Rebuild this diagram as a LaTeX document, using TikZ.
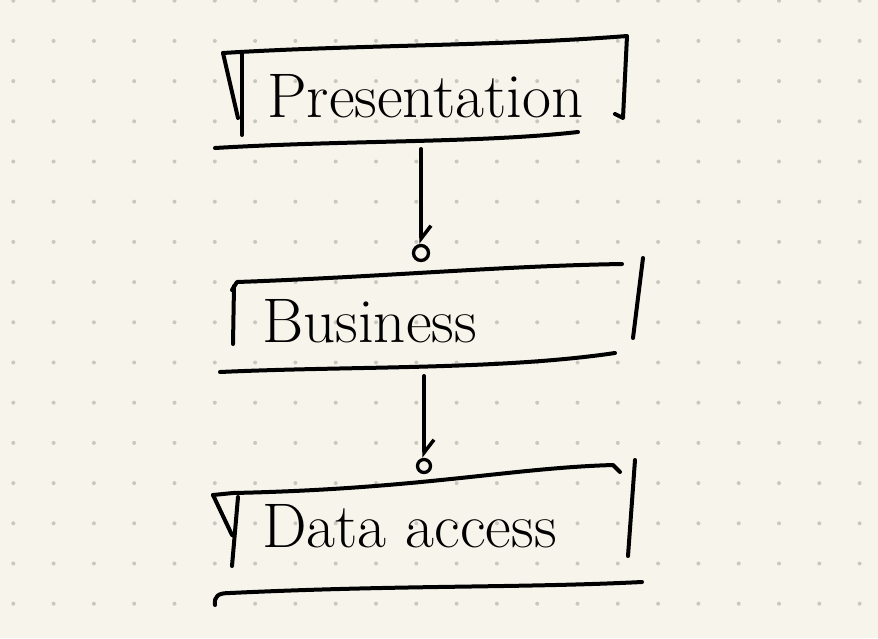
\documentclass[tikz,border=0pt]{standalone}
\usepackage{amsmath}
\usepackage{tikz}
\usetikzlibrary{arrows.meta}
\definecolor{paper}{RGB}{247,245,235}
\definecolor{dotgrey}{RGB}{200,200,192}

\begin{document}
\begin{tikzpicture}[x=1pt, y=-1pt,
    inkline/.style={line width=4pt, line cap=round, line join=round},
    label/.style={anchor=base west, inner sep=0pt, font=\fontsize{63}{66}\selectfont},
    joint/.style={circle, draw, line width=3.3pt, minimum size=15pt, inner sep=0pt}]
    \fill[paper] (0,0) rectangle (878,638);
    \useasboundingbox (0,0) rectangle (878,638);
    \foreach \i in {0,...,21}
        \foreach \j in {0,...,15}
            \fill[dotgrey] (13.3+40.3*\i, 0.7+40.2*\j) circle (2pt);

    \node[label] (pres) at (267,117) {Presentation};
    \draw[inkline] (223,53) .. controls (350,45) and (500,46) .. (627,36) -- (623,118) -- (615,114);
    \draw[inkline] (223,53) -- (238,118);
    \draw[inkline] (242,52) -- (242,135);
    \draw[inkline] (215,148) .. controls (350,140) and (480,143) .. (578,132);

    \node[label] (bus) at (262,342) {Business};
    \draw[inkline] (232,290) -- (237,282) .. controls (380,277) and (500,266) .. (622,264);
    \draw[inkline] (234,286) -- (233,344);
    \draw[inkline] (643,258) -- (633,338);
    \draw[inkline] (220,372) .. controls (350,366) and (500,370) .. (615,353);

    \node[label] (data) at (262,547) {Data access};
    \draw[inkline] (213,495) -- (233,493) .. controls (420,489) and (510,468) .. (613,465) -- (620,472);
    \draw[inkline] (213,495) -- (232,535);
    \draw[inkline] (238,497) -- (232,566);
    \draw[inkline] (635,460) -- (628,556);
    \draw[inkline] (215,605) .. controls (214,596) and (218,593) .. (230,593) .. controls (400,585) and (520,588) .. (642,582);

    \coordinate (pres-out) at (421,149);
    \node[joint] (bus-in) at (421,253) {};
    \coordinate (bus-out) at (424,376);
    \node[joint, minimum size=13pt] (data-in) at (424,466) {};
    \draw[inkline, -{Straight Barb[harpoon, length=13pt, width=20pt, line width=3.5pt]}] (pres-out) -- (bus-in);
    \draw[inkline, -{Straight Barb[harpoon, length=13pt, width=20pt, line width=3.5pt]}] (bus-out) -- (data-in);
\end{tikzpicture}
\end{document}
